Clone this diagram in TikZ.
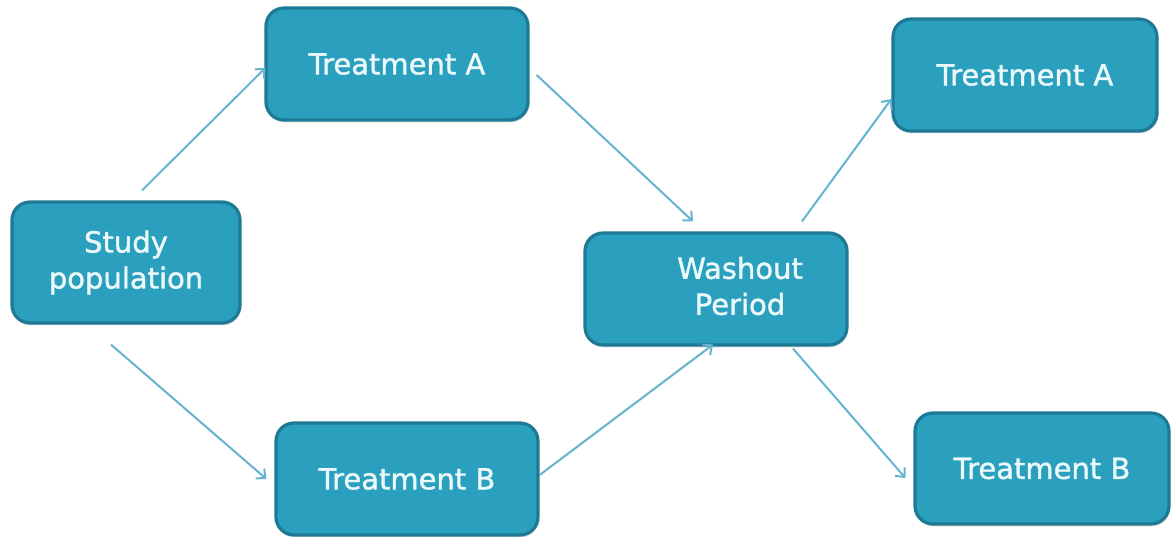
\documentclass[tikz,border=0pt]{standalone}
\usepackage{fontspec}
\setmainfont{DejaVu Sans}[FakeBold=1.3]
\newfontfamily\boxfont{DejaVu Sans}[FakeBold=1.3]
\usetikzlibrary{arrows.meta,shadows}
\definecolor{boxfill}{RGB}{42,160,190}
\definecolor{boxline}{RGB}{30,122,148}
\definecolor{arrowcol}{RGB}{100,180,208}
\definecolor{txtcol}{RGB}{236,249,251}
\tikzset{
  box/.style={draw=boxline, line width=3.2pt, fill=boxfill, rounded corners=18pt,
    drop shadow={opacity=0.25, shadow xshift=1pt, shadow yshift=-2.5pt},
    text=txtcol, align=center, inner sep=0pt,
    font=\boxfont\fontsize{29}{36}\selectfont},
  txt/.style={text=txtcol, align=center, inner sep=0pt, font=\boxfont\fontsize{29}{36}\selectfont},
  flow/.style={draw=arrowcol, line width=2pt, -{Straight Barb[length=7pt,width=13pt]}}
}
\begin{document}
\begin{tikzpicture}[x=1pt,y=-1pt]
\useasboundingbox[fill=white] (0,0) rectangle (1176,537);
\node[box, minimum width=228pt, minimum height=121pt] (sp) at (126,262.5) {Study\\population};
\node[box, minimum width=262pt, minimum height=112pt] (tA) at (397,64) {Treatment A};
\node[box, minimum width=262pt, minimum height=112pt] (tB) at (407,479) {Treatment B};
\node[box, minimum width=262pt, minimum height=112pt] (wo) at (716,289) {};
\node[txt] (wotxt) at ([shift={(24,-3)}]wo.center) {Washout\\Period};
\node[box, minimum width=264pt, minimum height=112pt] (tA2) at (1025,75) {Treatment A};
\node[box, minimum width=254pt, minimum height=111pt] (tB2) at (1042,468.5) {Treatment B};
\draw[flow] ([shift={(16,-10)}]sp.north) -- ([shift={(1,4)}]tA.west);
\draw[flow] ([shift={(7,11)}]tA.east) -- ([shift={(-23,-10)}]wo.north);
\draw[flow] ([shift={(-15,20)}]sp.south) -- ([shift={(-8,0)}]tB.west);
\draw[flow] ([shift={(0,-4)}]tB.east) -- ([shift={(-3,-2)}]wo.south);
\draw[flow] ([shift={(86,-10)}]wo.north) -- ([shift={(0,24)}]tA2.west);
\draw[flow] ([shift={(77,2)}]wo.south) -- ([shift={(-8,9.5)}]tB2.west);
\end{tikzpicture}
\end{document}
